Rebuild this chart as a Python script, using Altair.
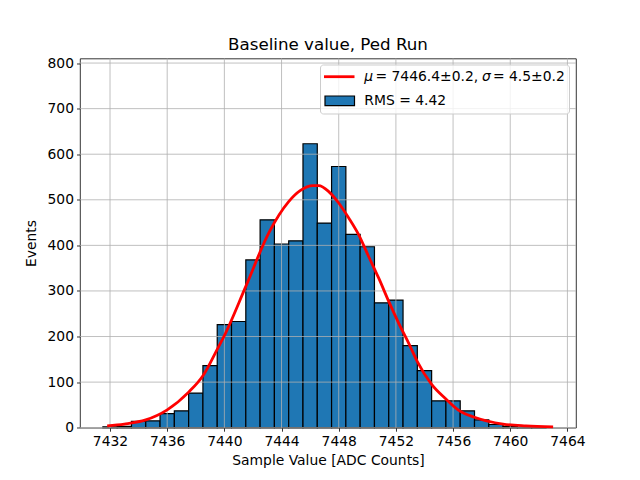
import altair as alt
import pandas as pd

# ---- data ----
bin_centers = list(range(7432, 7463))
bin_counts = [2, 3, 14, 15, 31, 37, 76, 136, 226, 233, 368, 456, 403, 410, 623,
              449, 573, 424, 397, 274, 280, 180, 125, 59, 59, 37, 17, 7, 3, 1, 1]

fit_x = [7431.8, 7433.0, 7434.5, 7436.0, 7437.5, 7438.5, 7439.5, 7440.0, 7441.5,
         7443.1, 7444.5, 7445.3, 7446.2, 7446.6, 7447.3, 7448.0, 7448.7, 7449.4,
         7450.1, 7450.8, 7451.5, 7452.2, 7452.9, 7453.5, 7454.5, 7455.5, 7456.4,
         7457.5, 7459.5, 7461.1, 7463.0]
fit_y = [4, 8, 17, 39, 78, 114, 172, 202, 310, 427, 496, 520, 531, 531, 518, 493,
         460, 423, 375, 328, 277, 229, 185, 145, 95, 63, 38, 23, 8, 4, 2]

x_ticks = [7432, 7436, 7440, 7444, 7448, 7452, 7456, 7460, 7464]
y_ticks = [0, 100, 200, 300, 400, 500, 600, 700, 800]

fit_label_parts = ["μ", "= 7446.4±0.2,", "σ", "= 4.5±0.2"]
hist_label = "RMS = 4.42"
title_text = "Baseline value, Ped Run"
x_title = "Sample Value [ADC Counts]"
y_title = "Events"

BLUE = "#1f77b4"
GRID = "#b0b0b0"
FS = 13.9

xs = alt.Scale(domain=[7429.9, 7464.6], nice=False, zero=False)
ys = alt.Scale(domain=[0, 810], nice=False)

x_axis = alt.Axis(
    values=x_ticks, format="d", title=x_title, grid=False,
    tickSize=3.5, tickWidth=0.8, tickColor="black", domain=False,
    labelFontSize=FS, labelColor="black", labelPadding=3,
    titleFontSize=FS, titleFontWeight="normal", titleColor="black",
    titlePadding=5, labelFlush=False)
y_axis = alt.Axis(
    values=y_ticks, format="d", title=y_title, grid=False,
    tickSize=3.5, tickWidth=0.8, tickColor="black", domain=False,
    labelFontSize=FS, labelColor="black", labelPadding=3,
    titleFontSize=FS, titleFontWeight="normal", titleColor="black",
    titlePadding=8, labelFlush=False)

bins_df = pd.DataFrame({"center": bin_centers, "count": bin_counts})
fit_df = pd.DataFrame({"x": fit_x, "y": fit_y})
xt_df = pd.DataFrame({"v": x_ticks})
yt_df = pd.DataFrame({"v": y_ticks})
one = pd.DataFrame({"k": [0]})

bars = alt.Chart(bins_df).transform_calculate(
    x0="datum.center - 0.5", x1="datum.center + 0.5"
).mark_rect(fill=BLUE, stroke="black", strokeWidth=1.2).encode(
    x=alt.X("x0:Q", scale=xs, axis=x_axis),
    x2="x1:Q",
    y=alt.Y("count:Q", scale=ys, axis=y_axis),
    y2=alt.datum(0),
)

xgrid = alt.Chart(xt_df).mark_rule(color=GRID, strokeWidth=0.8).encode(
    x=alt.X("v:Q", scale=xs, axis=x_axis))
ygrid = alt.Chart(yt_df).mark_rule(color=GRID, strokeWidth=0.8).encode(
    y=alt.Y("v:Q", scale=ys, axis=y_axis))

curve = alt.Chart(fit_df).mark_line(color="red", strokeWidth=2.8,
                                    interpolate="monotone").encode(
    x=alt.X("x:Q", scale=xs, axis=x_axis),
    y=alt.Y("y:Q", scale=ys, axis=y_axis))

# legend and title (decoration, in pixels of the plot area)
leg_box = alt.Chart(one).mark_rect(fill="white", fillOpacity=0.8, stroke="#cccccc",
                                   strokeWidth=1, cornerRadius=3).encode(
    x=alt.value(240.5), x2=alt.value(489.5), y=alt.value(6.5), y2=alt.value(55.5))
leg_line = alt.Chart(one).mark_rule(color="red", strokeWidth=2.8).encode(
    x=alt.value(244), x2=alt.value(274.5), y=alt.value(18.2))
leg_patch = alt.Chart(one).mark_rect(fill=BLUE, stroke="black", strokeWidth=1.2).encode(
    x=alt.value(245), x2=alt.value(274.5), y=alt.value(37.5), y2=alt.value(47.2))

def txt(s, x, y, italic=False, size=FS, align="left", baseline="middle"):
    return alt.Chart(one).mark_text(
        text=s, align=align, baseline=baseline, fontSize=size, color="black",
        fontStyle="italic" if italic else "normal").encode(
        x=alt.value(x), y=alt.value(y))

texts = [
    txt(fit_label_parts[0], 284.3, 18.2, True),
    txt(fit_label_parts[1], 295.5, 18.2),
    txt(fit_label_parts[2], 402, 18.2, True),
    txt(fit_label_parts[3], 413, 18.2),
    txt(hist_label, 284.3, 42.2),
    txt(title_text, 248, -8.5, size=16.7, align="center", baseline="alphabetic"),
]

chart = alt.layer(bars, xgrid, ygrid, curve, leg_box, leg_line, leg_patch, *texts).properties(
    width=496, height=369.2,
    autosize=alt.AutoSizeParams(type="none"),
    padding={"left": 72, "top": 50.5, "right": 50, "bottom": 40},
).configure(font="DejaVu Sans").configure_view(stroke="black", strokeWidth=0.8)

chart.save("out.html", embed_options={"renderer": "svg", "actions": False})
